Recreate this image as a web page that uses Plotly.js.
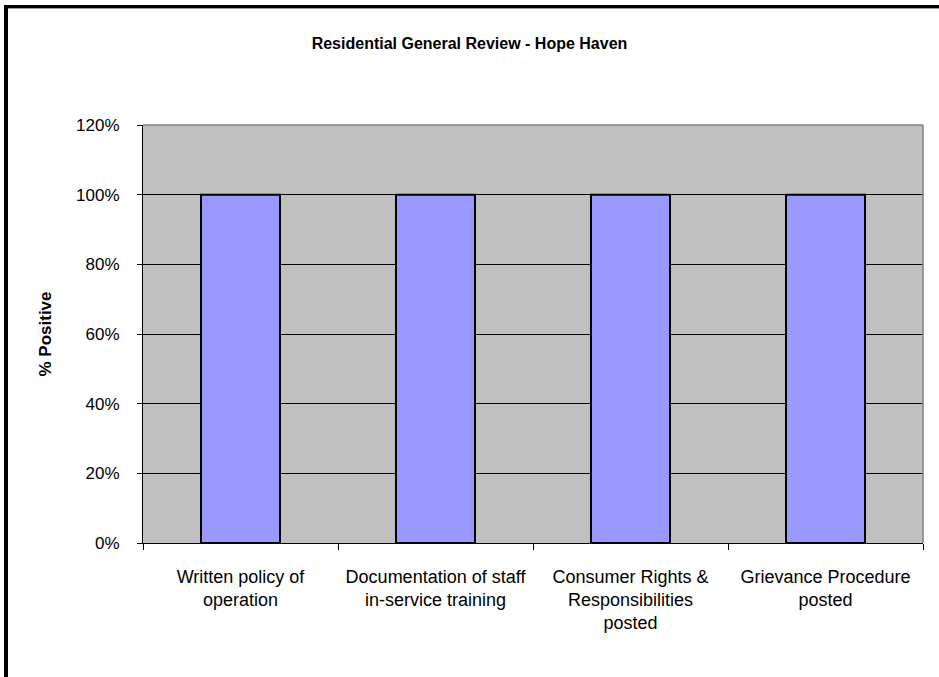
<!DOCTYPE html>
<html>
<head>
<meta charset="utf-8">
<script src="https://cdn.plot.ly/plotly-3.0.1.min.js"></script>
<style>
  html, body { margin: 0; padding: 0; background: #fff; }
  #wrap { position: relative; width: 939px; height: 677px; overflow: hidden; }
  #chart { position: absolute; left: 0; top: 0; width: 939px; height: 677px; }
  .fl1 { position: absolute; left: 4px; top: 5px; width: 3px; height: 672px; background: #000; }
  .fl2 { position: absolute; left: 7px; top: 8px; width: 1px; height: 669px; background: #000; }
  .ft1 { position: absolute; left: 4px; top: 5px; width: 935px; height: 3px; background: #000; }
  .ft2 { position: absolute; left: 8px; top: 8px; width: 931px; height: 1px; background: #999; }
</style>
</head>
<body>
<div id="wrap">
  <div id="chart"></div>
  <div class="fl1"></div><div class="fl2"></div><div class="ft1"></div><div class="ft2"></div>
</div>
<script>
const categories = [
  "Written policy of<br>operation",
  "Documentation of staff<br>in-service training",
  "Consumer Rights &<br>Responsibilities<br>posted",
  "Grievance Procedure<br>posted"
];
const percentPositive = [1.0, 1.0, 1.0, 1.0];
const yTickVals = [0, 0.2, 0.4, 0.6, 0.8, 1.0, 1.2];

const trace = {
  type: 'bar',
  x: categories,
  y: percentPositive,
  marker: { color: '#9999FF', line: { color: '#000', width: 2 } },
  hoverinfo: 'none'
};

const layout = {
  width: 939, height: 677,
  margin: { l: 143, r: 16, t: 125, b: 134 },
  paper_bgcolor: 'rgba(0,0,0,0)',
  plot_bgcolor: '#C0C0C0',
  showlegend: false,
  bargap: 0.595,
  font: { family: 'Liberation Sans, Arial, sans-serif', size: 17, color: '#000' },
  title: {
    text: '<b>Residential General Review - Hope Haven</b>',
    font: { size: 16, color: '#000' },
    x: 0.5, xanchor: 'center', y: 1 - 43/677, yanchor: 'middle'
  },
  xaxis: {
    type: 'category',
    tickson: 'boundaries',
    ticks: 'outside', ticklen: 6, tickcolor: '#000', tickwidth: 1,
    showline: true, linecolor: '#000', linewidth: 1,
    showgrid: false,
    ticklabelstandoff: 17,
    tickfont: { size: 18, color: '#000' },
    fixedrange: true
  },
  yaxis: {
    range: [0, 1.2],
    tickvals: yTickVals,
    tickformat: '.0%',
    ticks: 'outside', ticklen: 5, tickcolor: '#000', tickwidth: 1,
    showline: true, linecolor: '#000', linewidth: 1,
    showgrid: true, gridcolor: '#000', gridwidth: 1,
    zeroline: false,
    ticklabelstandoff: 14,
    tickfont: { size: 17, color: '#000' },
    title: { text: '<b>% Positive</b>', font: { size: 17, color: '#000' }, standoff: 20 },
    fixedrange: true
  },
  shapes: [
    { type: 'line', xref: 'paper', yref: 'paper', x0: 0, x1: 1, y0: 1, y1: 1, line: { color: '#808080', width: 1.5 } },
    { type: 'line', xref: 'paper', yref: 'paper', x0: 1, x1: 1, y0: 0, y1: 1, line: { color: '#808080', width: 1.5 } }
  ]
};

Plotly.newPlot('chart', [trace], layout, { displayModeBar: false, staticPlot: true });
</script>
</body>
</html>
